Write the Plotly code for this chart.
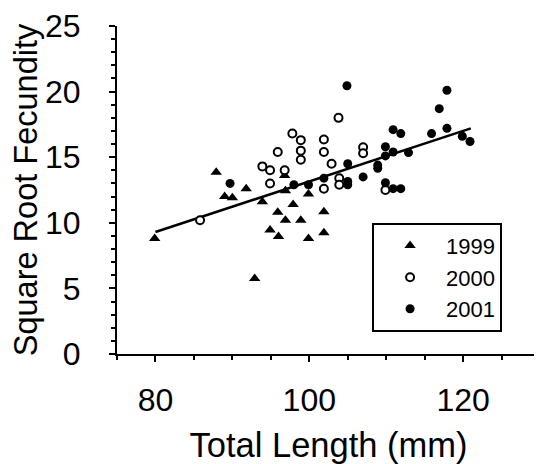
import plotly.graph_objects as go

# 1999 (triangles)
tl_1999 = [79.9, 87.9, 89.0, 90.0, 91.8, 92.9, 93.9, 94.9, 95.9, 96.0,
           96.8, 96.9, 96.9, 97.9, 98.9, 99.9, 99.9, 101.9, 101.9]
sf_1999 = [8.8, 13.85, 12.0, 11.9, 12.6, 5.75, 11.6, 9.45, 10.8, 8.95,
           13.6, 12.45, 10.2, 11.4, 10.2, 12.2, 8.8, 10.85, 9.25]

# 2000 (open circles)
tl_2000 = [85.8, 93.9, 94.9, 94.9, 95.9, 96.8, 97.8, 98.9, 98.9, 98.9,
           101.9, 101.9, 101.9, 102.9, 103.8, 103.9, 103.9, 107.0, 107.0, 109.9]
sf_2000 = [10.2, 14.3, 14.0, 13.0, 15.4, 14.0, 16.8, 16.3, 15.5, 14.8,
           16.35, 15.4, 12.6, 14.5, 18.0, 13.4, 12.9, 15.75, 15.3, 12.5]

# 2001 (filled circles)
tl_2001 = [89.7, 98.0, 99.9, 101.9, 104.9, 105.0, 105.0, 105.0, 107.0, 108.9,
           108.9, 109.9, 109.9, 109.9, 110.9, 110.9, 110.9, 111.9, 111.9, 112.9,
           115.9, 116.9, 117.9, 117.9, 119.9, 120.9]
sf_2001 = [13.0, 12.9, 12.9, 13.4, 20.45, 14.5, 13.15, 12.9, 13.5, 14.4,
           14.15, 15.8, 15.1, 13.05, 17.1, 15.4, 12.6, 16.8, 12.6, 15.35,
           16.8, 18.7, 20.1, 17.2, 16.6, 16.2]

# regression line end points
fit_x = [80, 121]
fit_y = [9.3, 17.2]

FONT = "Liberation Sans, Arial, sans-serif"

fig = go.Figure()

fig.add_trace(go.Scatter(
    x=fit_x, y=fit_y, mode="lines", showlegend=False,
    line=dict(color="black", width=2.5)
))

fig.add_trace(go.Scatter(
    x=tl_1999, y=sf_1999, mode="markers", name="1999",
    marker=dict(symbol="triangle-up", size=10, color="black")
))
fig.add_trace(go.Scatter(
    x=tl_2000, y=sf_2000, mode="markers", name="2000",
    marker=dict(symbol="circle", size=8, color="white",
                line=dict(color="black", width=2))
))
fig.add_trace(go.Scatter(
    x=tl_2001, y=sf_2001, mode="markers", name="2001",
    marker=dict(symbol="circle", size=9, color="black")
))

# the page body adds 8px around the figure, so the figure is 8px smaller
fig.update_layout(
    width=534, height=456,
    margin=dict(l=109, r=2, t=18, b=110),
    paper_bgcolor="white", plot_bgcolor="white",
    font=dict(family=FONT, size=32, color="black"),
    legend=dict(
        x=0.603, y=0.40, xanchor="left", yanchor="top",
        bordercolor="black", borderwidth=2, bgcolor="white",
        font=dict(size=22), itemwidth=62,
    ),
    xaxis=dict(
        range=[75, 130], tickvals=[80, 100, 120], automargin=False,
        showgrid=False, zeroline=False,
        showline=True, linecolor="black", linewidth=2,
        ticks="outside", ticklen=6, tickwidth=2, tickcolor="black",
        tickfont=dict(size=32), ticklabelstandoff=11,
        minor=dict(dtick=5, tick0=75, ticks="outside", ticklen=4,
                   tickwidth=1.5, tickcolor="black", showgrid=False),
        title=dict(text="Total Length (mm)", standoff=22, font=dict(size=34.5)),
    ),
    yaxis=dict(
        range=[0, 25], dtick=5, automargin=False,
        showgrid=False, zeroline=False,
        showline=True, linecolor="black", linewidth=2,
        ticks="outside", ticklen=6, tickwidth=2, tickcolor="black",
        tickfont=dict(size=32), ticklabelstandoff=22,
        minor=dict(dtick=1, ticks="outside", ticklen=4,
                   tickwidth=1.5, tickcolor="black", showgrid=False),
        title=dict(text="Square Root Fecundity", standoff=6, font=dict(size=32.5)),
    ),
)

fig.write_html("out.html")
